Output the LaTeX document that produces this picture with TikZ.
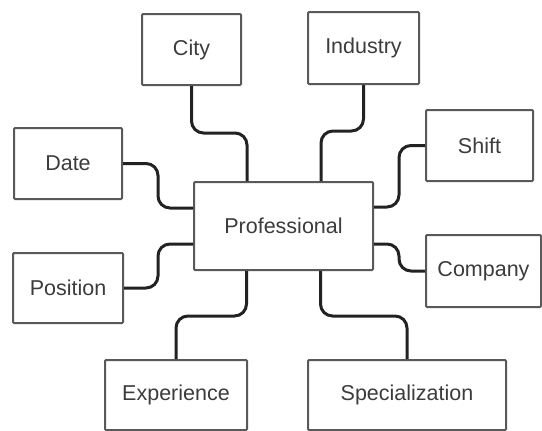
\documentclass[tikz,border=0pt]{standalone}
\usepackage{fontspec}
\setmainfont{Liberation Sans}
\usetikzlibrary{positioning}

\definecolor{boxline}{HTML}{595959}
\definecolor{boxtext}{HTML}{3C3C3C}
\definecolor{linkline}{HTML}{222222}

\begin{document}
\begin{tikzpicture}[
x=1pt, y=1pt,
field/.style={rectangle, draw=boxline, fill=white, line width=2pt, rounded corners=1pt, text=boxtext, inner sep=0pt, font=\fontsize{21.5}{25}\selectfont},
link/.style={draw=linkline, line width=3pt, rounded corners=12pt}
]
\useasboundingbox[fill=white] (0,0) rectangle (542,-431);

\node[field, minimum width=179pt, minimum height=88pt](professional) at (283.5,-226){Professional};

\node[field, minimum width=99pt, minimum height=71pt](city) at (191.5,-49.5){City};
\node[field, minimum width=111pt, minimum height=72pt](industry) at (363.5,-48){Industry};
\node[field, minimum width=108pt, minimum height=71pt](date) at (68,-163.5){Date};
\node[field, minimum width=107pt, minimum height=71pt](shift) at (479.5,-145.5){Shift};
\node[field, minimum width=110pt, minimum height=70pt](position) at (68,-288){Position};
\node[field, minimum width=115pt, minimum height=72pt](company) at (483.5,-271){Company};
\node[field, minimum width=142pt, minimum height=70pt](experience) at (176,-395){Experience};
\node[field, minimum width=198pt, minimum height=70pt](specialization) at (407,-395){Specialization};

% connectors into the central box
\draw[link] (city.south) -- ++(0,-47) -| ([xshift=-36.5pt]professional.north);
\draw[link] (industry.south) -- ++(0,-46) -| ([xshift=37.5pt]professional.north);
\draw[link] (date.east) -- ++(35,0) |- ([yshift=18pt]professional.west);
\draw[link] (position.east) -- ++(34,0) |- ([yshift=-18pt]professional.west);
\draw[link] ([yshift=19pt]professional.east) -- ++(25,0) |- (shift.west);
\draw[link] ([yshift=-18pt]professional.east) -- ++(25,0) |- (company.west);
\draw[link] ([xshift=-37pt]professional.south) -- ++(0,-45) -| (experience.north);
\draw[link] ([xshift=37pt]professional.south) -- ++(0,-45) -| (specialization.north);
\end{tikzpicture}
\end{document}
